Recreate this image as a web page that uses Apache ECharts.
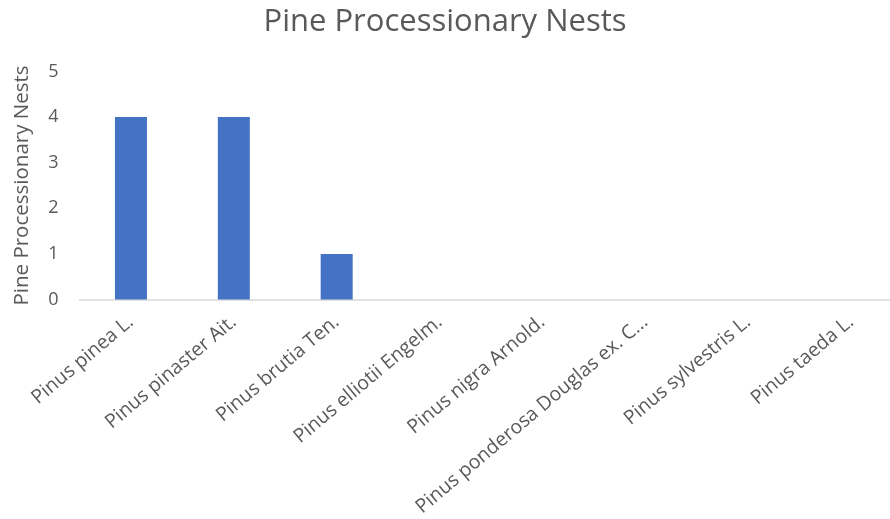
<!DOCTYPE html>
<html>
<head>
<meta charset="utf-8">
<script src="https://cdn.jsdelivr.net/npm/echarts@6/dist/echarts.min.js"></script>
<style>
  html, body { margin: 0; padding: 0; background: #fff; }
  #chart { width: 890px; height: 519px; }
</style>
</head>
<body>
<div id="chart"></div>
<script>
// Nest counts per pine species
const species = [
  'Pinus pinea L.',
  'Pinus pinaster Ait.',
  'Pinus brutia Ten.',
  'Pinus elliotii Engelm.',
  'Pinus nigra Arnold.',
  'Pinus ponderosa Douglas ex. C...',
  'Pinus sylvestris L.',
  'Pinus taeda L.'
];
const nests = [4, 4, 1, 0, 0, 0, 0, 0];
const yTicks = [0, 1, 2, 3, 4, 5];

const textColor = '#595959';
const fontFamily = 'Open Sans, Liberation Sans, sans-serif';

const chart = echarts.init(document.getElementById('chart'));
chart.setOption({
  animation: false,
  title: {
    text: 'Pine Processionary Nests',
    left: 'center',
    top: 2,
    textStyle: { color: textColor, fontSize: 31, fontWeight: 'normal', fontFamily }
  },
  // plot area runs past the right edge of the canvas
  grid: {
    left: 79.5, width: 823, top: 71.5, bottom: 219.5,
    containLabel: false,
    outerBoundsMode: 'none'
  },
  xAxis: {
    type: 'category',
    data: species,
    axisLine: { lineStyle: { color: '#d9d9d9', width: 1.5 } },
    axisTick: { show: false },
    axisLabel: {
      rotate: 40,
      interval: 0,
      margin: 20,
      color: textColor,
      fontSize: 19.5,
      fontFamily
    }
  },
  yAxis: {
    type: 'value',
    min: yTicks[0],
    max: yTicks[yTicks.length - 1],
    interval: 1,
    name: 'Pine Processionary Nests',
    nameLocation: 'middle',
    nameGap: 47,
    nameTextStyle: { color: textColor, fontSize: 20.5, fontFamily },
    axisLine: { show: false },
    axisTick: { show: false },
    splitLine: { show: false },
    axisLabel: { color: textColor, fontSize: 18, margin: 21, fontFamily }
  },
  series: [{
    type: 'bar',
    data: nests,
    barWidth: 32,
    itemStyle: { color: '#4472C4' }
  }]
});
</script>
</body>
</html>
